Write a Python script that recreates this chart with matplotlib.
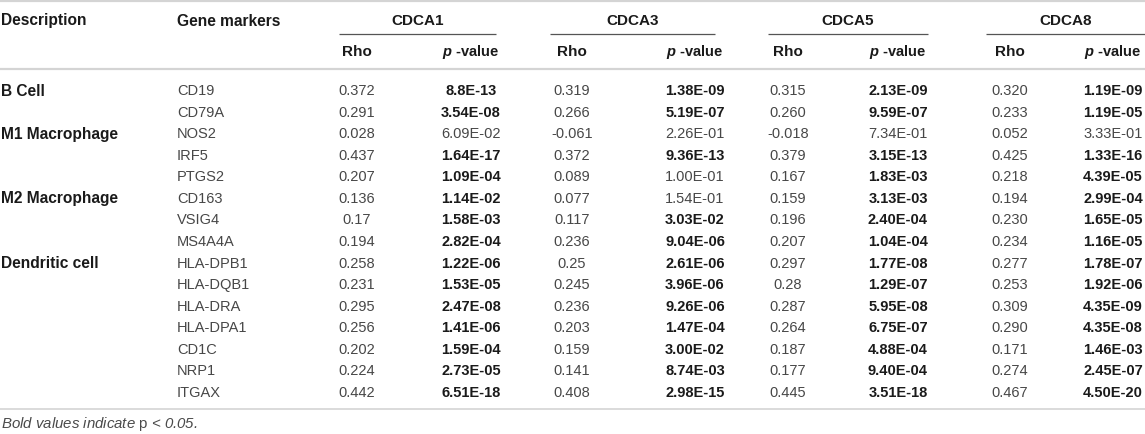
import matplotlib
matplotlib.use("Agg")
import matplotlib.pyplot as plt

plt.rcParams['font.family'] = ['Liberation Sans', 'DejaVu Sans']
plt.rcParams['mathtext.fontset'] = 'custom'
plt.rcParams['mathtext.rm'] = 'Liberation Sans'
plt.rcParams['mathtext.it'] = 'Liberation Sans:italic'
plt.rcParams['mathtext.bf'] = 'Liberation Sans:bold'
plt.rcParams['mathtext.bfit'] = 'Liberation Sans:italic:bold'

# table data
genes = ["CDCA1", "CDCA3", "CDCA5", "CDCA8"]
groups = {0: "B Cell", 2: "M1 Macrophage", 5: "M2 Macrophage", 8: "Dendritic cell"}
markers = ["CD19", "CD79A", "NOS2", "IRF5", "PTGS2", "CD163", "VSIG4", "MS4A4A",
           "HLA-DPB1", "HLA-DQB1", "HLA-DRA", "HLA-DPA1", "CD1C", "NRP1", "ITGAX"]

rho_cdca1 = ["0.372", "0.291", "0.028", "0.437", "0.207", "0.136", "0.17", "0.194",
             "0.258", "0.231", "0.295", "0.256", "0.202", "0.224", "0.442"]
p_cdca1 = ["8.8E-13", "3.54E-08", "6.09E-02", "1.64E-17", "1.09E-04", "1.14E-02", "1.58E-03", "2.82E-04",
           "1.22E-06", "1.53E-05", "2.47E-08", "1.41E-06", "1.59E-04", "2.73E-05", "6.51E-18"]
rho_cdca3 = ["0.319", "0.266", "-0.061", "0.372", "0.089", "0.077", "0.117", "0.236",
             "0.25", "0.245", "0.236", "0.203", "0.159", "0.141", "0.408"]
p_cdca3 = ["1.38E-09", "5.19E-07", "2.26E-01", "9.36E-13", "1.00E-01", "1.54E-01", "3.03E-02", "9.04E-06",
           "2.61E-06", "3.96E-06", "9.26E-06", "1.47E-04", "3.00E-02", "8.74E-03", "2.98E-15"]
rho_cdca5 = ["0.315", "0.260", "-0.018", "0.379", "0.167", "0.159", "0.196", "0.207",
             "0.297", "0.28", "0.287", "0.264", "0.187", "0.177", "0.445"]
p_cdca5 = ["2.13E-09", "9.59E-07", "7.34E-01", "3.15E-13", "1.83E-03", "3.13E-03", "2.40E-04", "1.04E-04",
           "1.77E-08", "1.29E-07", "5.95E-08", "6.75E-07", "4.88E-04", "9.40E-04", "3.51E-18"]
rho_cdca8 = ["0.320", "0.233", "0.052", "0.425", "0.218", "0.194", "0.230", "0.234",
             "0.277", "0.253", "0.309", "0.290", "0.171", "0.274", "0.467"]
p_cdca8 = ["1.19E-09", "1.19E-05", "3.33E-01", "1.33E-16", "4.39E-05", "2.99E-04", "1.65E-05", "1.16E-05",
           "1.78E-07", "1.92E-06", "4.35E-09", "4.35E-08", "1.46E-03", "2.45E-07", "4.50E-20"]

rhos = [rho_cdca1, rho_cdca3, rho_cdca5, rho_cdca8]
pvals = [p_cdca1, p_cdca3, p_cdca5, p_cdca8]

# layout (pixel units)
W, H = 1145, 434
rho_x = [357, 572, 788, 1010]
p_x = [471, 695, 898, 1113]
line_l = [339, 550, 768, 986]
line_r = [496, 715, 928, 1145]
desc_x, gene_x = 1, 177
y_head, y_sub, y_ul = 21, 52, 34
y_row0, row_h = 91, 21.57
fs = 10.5
fs_lab = 11.2

fig = plt.figure(figsize=(W / 100, H / 100), dpi=100)
ax = fig.add_axes([0, 0, 1, 1])
ax.set_xlim(0, W)
ax.set_ylim(H, 0)
ax.axis("off")

dark = "#1a1a1a"
norm = "#474747"
rule = "#d4d4d4"

# horizontal rules
ax.plot([0, W], [1, 1], color=rule, lw=1.6, solid_capstyle="butt")
ax.plot([0, W], [69, 69], color=rule, lw=1.6, solid_capstyle="butt")
ax.plot([0, W], [409, 409], color=rule, lw=1.2, solid_capstyle="butt")

# headers
ax.text(desc_x, y_head, "Description", fontsize=fs_lab, fontweight="bold", color=dark, va="center", ha="left")
ax.text(gene_x, y_head, "Gene markers", fontsize=fs_lab, fontweight="bold", color=dark, va="center", ha="left")
for j, g in enumerate(genes):
    ax.text((line_l[j] + line_r[j]) / 2, y_head, g, fontsize=11, fontweight="bold", color=dark,
            va="center", ha="center")
    ax.plot([line_l[j], line_r[j]], [y_ul, y_ul], color="#555555", lw=0.9, solid_capstyle="butt")
    ax.text(rho_x[j], y_sub, "Rho", fontsize=11, fontweight="bold", color=dark, va="center", ha="center")
    ax.text(p_x[j], y_sub, r"$\mathbfit{p}$ -value", fontsize=fs, fontweight="bold", color=dark,
            va="center", ha="center")

# body
for i, m in enumerate(markers):
    y = y_row0 + i * row_h
    if i in groups:
        ax.text(desc_x, y, groups[i], fontsize=fs_lab, fontweight="bold", color=dark, va="center", ha="left")
    ax.text(gene_x, y, m, fontsize=fs, color=norm, va="center", ha="left")
    for j in range(len(genes)):
        ax.text(rho_x[j], y, rhos[j][i], fontsize=fs, color=norm, va="center", ha="center")
        sig = float(pvals[j][i]) < 0.05
        ax.text(p_x[j], y, pvals[j][i], fontsize=fs, color=dark if sig else norm,
                fontweight="bold" if sig else "normal", va="center", ha="center")

# footnote
ax.text(desc_x, 424, r"Bold values indicate $\mathrm{p}$ < 0.05.", fontsize=10.8, style="italic",
        color="#4a4a4a", va="center", ha="left")

fig.savefig("out.png", dpi=100)
